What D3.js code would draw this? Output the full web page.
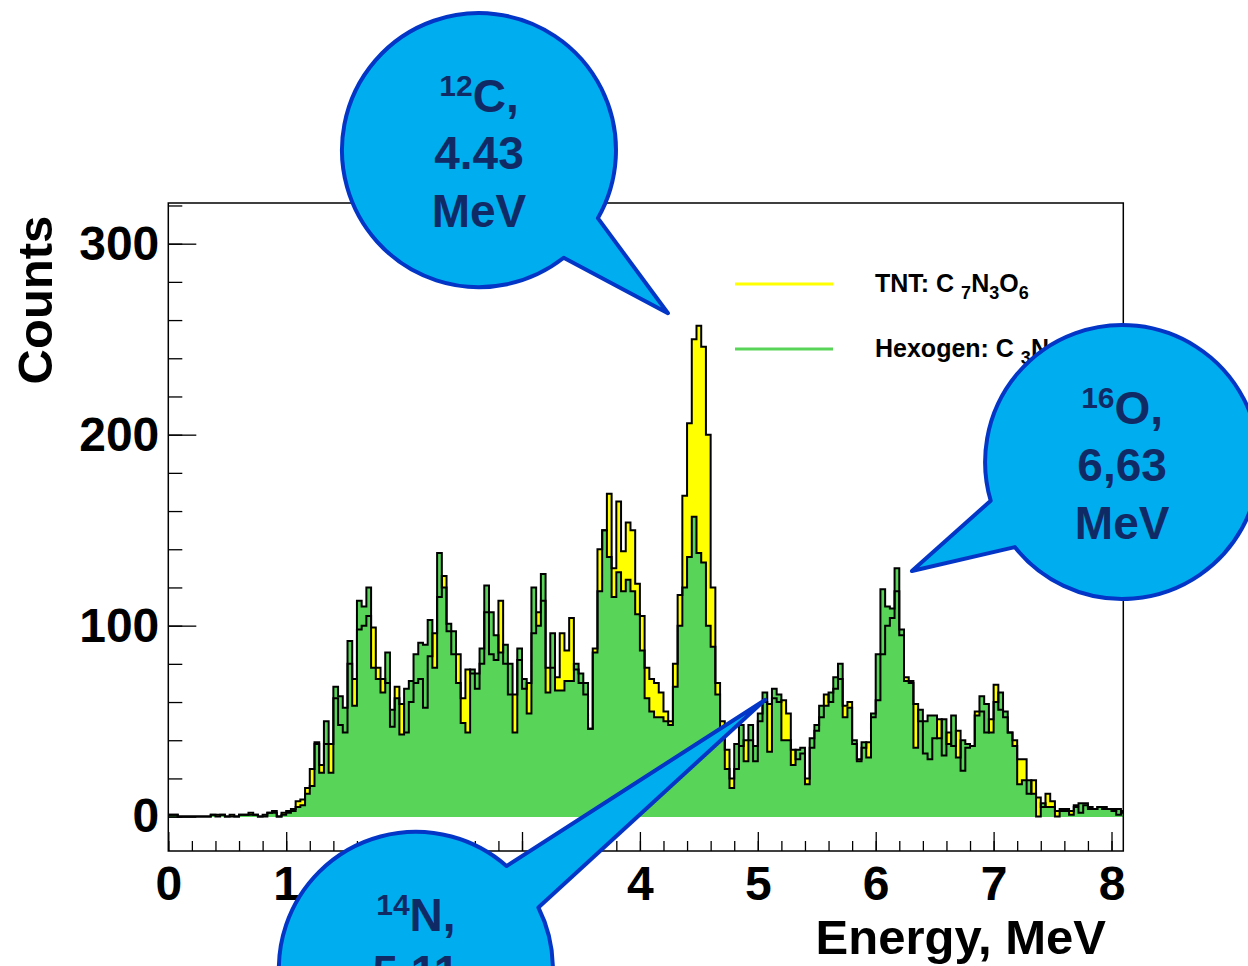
<!DOCTYPE html>
<html>
<head>
<meta charset="utf-8">
<script src="https://cdn.jsdelivr.net/npm/d3@7"></script>
<style>
  body { margin: 0; background: #fff; }
  svg { display: block; }
  text { font-family: "Liberation Sans", Arial, sans-serif; font-weight: bold; }
</style>
</head>
<body>
<svg id="chart" width="1248" height="966"></svg>
<script>
// spectrum, 0.04 MeV bins starting at 0 MeV
const binWidth = 0.04;
const tnt = [
  1,1,0,0,0,0,0,0,0,1, 1,1,0,1,0,1,1,2,1,0,
  0,2,3,0,2,3,4,8,9,15, 25,39,27,38,38,62,48,44,80,72,
  98,100,105,99,78,72,70,47,68,59, 44,60,70,72,57,84,96,115,126,97,
  85,85,62,77,75,67,80,107,85,82, 113,80,64,64,82,67,70,96,107,113,
  78,78,73,96,87,104,77,70,64,46, 88,140,150,169,130,165,139,154,150,122,
  105,78,72,70,65,55,50,80,116,168, 206,250,257,246,200,120,70,50,35,20,
  25,37,40,40,29,50,60,59,62,60, 61,54,35,30,33,20,36,45,52,64,
  60,67,72,58,60,38,30,36,39,52, 61,85,100,104,118,95,73,70,59,50,
  33,30,41,51,32,44,37,45,24,36, 37,55,55,44,51,69,56,52,44,40,
  30,30,12,19,10,5,12,8,3,4, 4,3,5,2,6,4,4,5,4,4,
  4,1,2
];
const hexogen = [
  1,1,0,0,0,0,0,0,0,1, 0,1,0,0,0,1,1,1,1,0,
  1,2,2,0,1,2,3,5,6,12, 16,38,23,50,23,68,63,57,92,58,
  113,110,120,78,72,65,86,56,62,43, 67,71,85,91,90,103,78,138,120,101,
  97,70,49,44,77,75,88,121,107,95, 86,90,80,44,88,72,54,120,100,127,
  65,96,66,66,71,71,80,75,70,46, 86,118,150,136,115,128,118,124,118,106,
  87,62,55,52,52,50,48,68,100,120, 136,157,138,133,100,89,64,45,25,15,
  38,48,29,48,37,54,65,34,67,64, 40,40,27,35,36,17,41,48,58,58,
  65,73,80,52,57,40,29,39,31,54, 85,119,110,109,130,98,71,71,36,56,
  50,53,53,41,51,38,53,31,40,38, 37,53,63,59,44,60,65,55,44,37,
  17,19,19,12,0,7,5,5,0,3, 3,1,6,7,7,5,4,5,5,4,
  3,4,3
];
const xTicks = [0, 1, 2, 3, 4, 5, 6, 7, 8];
const yTicks = [0, 100, 200, 300];
const legendItems = [
  { name: "TNT: C", formula: [["7", "N"], ["3", "O"], ["6", ""]], color: "#ffff00" },
  { name: "Hexogen: C", formula: [["3", "N"], ["6", "O"], ["6", ""]], color: "#58d558" }
];
// annotation bubbles: centre and tip in data units (MeV, counts)
const callouts = [
  { iso: "12", el: "C,", lines: ["4.43", "MeV"], cx: 2.635, cy: 349, tx: 4.238, ty: 263.6 },
  { iso: "16", el: "O,", lines: ["6,63", "MeV"], cx: 8.09, cy: 185.7, tx: 6.307, ty: 128.6 },
  { iso: "14", el: "N,", lines: ["5,11", "MeV"], cx: 2.10, cy: -79.7, tx: 5.061, ty: 61.1 }
];

const svg = d3.select("#chart");
const mLeft = 168.3, mRight = 1123.3, mTop = 203, mBottom = 851;

const x = d3.scaleLinear().domain([0, 8.1]).range([mLeft, mRight]);
const y = d3.scaleLinear().domain([-18, 321.3]).range([mBottom, mTop]);
const base = Math.round(y(0));

svg.append("clipPath").attr("id", "plotclip")
  .append("rect").attr("x", mLeft).attr("y", mTop)
  .attr("width", mRight - mLeft).attr("height", mBottom - mTop);

function steps(arr) {
  const pts = arr.map((v, i) => [i * binWidth, v]);
  pts.push([arr.length * binWidth, arr[arr.length - 1]]);
  return pts;
}

const area = d3.area()
  .x(d => x(d[0])).y0(base).y1(d => y(d[1]))
  .curve(d3.curveStepAfter);
const line = d3.line()
  .x(d => x(d[0])).y(d => y(d[1]))
  .curve(d3.curveStepAfter);

const plot = svg.append("g").attr("clip-path", "url(#plotclip)");
plot.append("path").attr("d", area(steps(tnt))).attr("fill", "#ffff00");
plot.append("path").attr("d", area(steps(hexogen))).attr("fill", "#58d558");
plot.append("path").attr("d", line(steps(tnt)))
  .attr("fill", "none").attr("stroke", "#000").attr("stroke-width", 2);
plot.append("path").attr("d", line(steps(hexogen)))
  .attr("fill", "none").attr("stroke", "#000").attr("stroke-width", 2);

// frame
svg.append("rect").attr("x", mLeft).attr("y", mTop)
  .attr("width", mRight - mLeft).attr("height", mBottom - mTop)
  .attr("fill", "none").attr("stroke", "#000").attr("stroke-width", 1.5);

// y axis, ticks pointing inwards
const yMinor = d3.range(0, 321, 20);
svg.append("g").attr("transform", `translate(${mLeft},0)`)
  .call(d3.axisLeft(y).tickValues(yMinor).tickSize(-14).tickFormat(""))
  .call(g => g.select(".domain").remove());
svg.append("g").attr("transform", `translate(${mLeft},0)`)
  .call(d3.axisLeft(y).tickValues(yTicks).tickSize(-28).tickPadding(9))
  .call(g => g.select(".domain").remove())
  .call(g => g.selectAll("text").attr("font-size", 48).attr("fill", "#000")
    .attr("font-family", "Liberation Sans, Arial, sans-serif").attr("font-weight", "bold"));

// x axis; the labels 2 and 3 sit under the 14N bubble in the original
const hiddenX = [2, 3];
const xMinor = d3.range(0, 8.1, 0.2);
svg.append("g").attr("transform", `translate(0,${mBottom})`)
  .call(d3.axisBottom(x).tickValues(xMinor).tickSize(-10).tickFormat(""))
  .call(g => g.select(".domain").remove());
svg.append("g").attr("transform", `translate(0,${mBottom})`)
  .call(d3.axisBottom(x).tickValues(xTicks).tickSize(-19).tickPadding(15)
    .tickFormat(d => hiddenX.includes(d) ? "" : d3.format("d")(d)))
  .call(g => g.select(".domain").remove())
  .call(g => g.selectAll("text").attr("font-size", 48).attr("fill", "#000")
    .attr("font-family", "Liberation Sans, Arial, sans-serif").attr("font-weight", "bold"));
svg.selectAll(".tick line").attr("stroke", "#000").attr("stroke-width", 1.3);

svg.append("text").attr("transform", "translate(52,300) rotate(-90)")
  .attr("text-anchor", "middle").attr("font-size", 49).text("Counts");
svg.append("text").attr("x", 1106).attr("y", 954)
  .attr("text-anchor", "end").attr("font-size", 49).text("Energy, MeV");

// legend
const legend = svg.append("g");
legendItems.forEach((d, i) => {
  const ly = 284 + i * 65;
  legend.append("line").attr("x1", 735).attr("x2", 833).attr("y1", ly).attr("y2", ly)
    .attr("stroke", d.color).attr("stroke-width", 3);
  const t = legend.append("text").attr("x", 875).attr("y", ly + 8).attr("font-size", 25);
  t.append("tspan").text(d.name + " ");
  d.formula.forEach(([sub, el]) => {
    t.append("tspan").attr("font-size", 18).attr("dy", 7).text(sub);
    if (el) t.append("tspan").attr("dy", -7).text(el);
  });
});

// annotation bubbles
const R = 137, half = 11 * Math.PI / 180;
callouts.forEach(c => {
  const cx = x(c.cx), cy = y(c.cy), tx = x(c.tx), ty = y(c.ty);
  const a = Math.atan2(ty - cy, tx - cx);
  const ax = cx + R * Math.cos(a + half), ay = cy + R * Math.sin(a + half);
  const bx = cx + R * Math.cos(a - half), by = cy + R * Math.sin(a - half);
  const p = `M${tx},${ty}L${ax},${ay}A${R},${R} 0 1 1 ${bx},${by}Z`;
  svg.append("path").attr("d", p).attr("fill", "#00aeef")
    .attr("stroke", "#0336c6").attr("stroke-width", 4).attr("stroke-linejoin", "round");
  const t = svg.append("text").attr("x", cx).attr("y", cy - 38)
    .attr("text-anchor", "middle").attr("fill", "#102a66").attr("font-size", 46);
  t.append("tspan").attr("font-size", 30).attr("dy", -16).text(c.iso);
  t.append("tspan").attr("dy", 16).text(c.el);
  c.lines.forEach((s, i) => {
    svg.append("text").attr("x", cx).attr("y", cy + 19 + i * 58)
      .attr("text-anchor", "middle").attr("fill", "#102a66").attr("font-size", 46).text(s);
  });
});
</script>
</body>
</html>
